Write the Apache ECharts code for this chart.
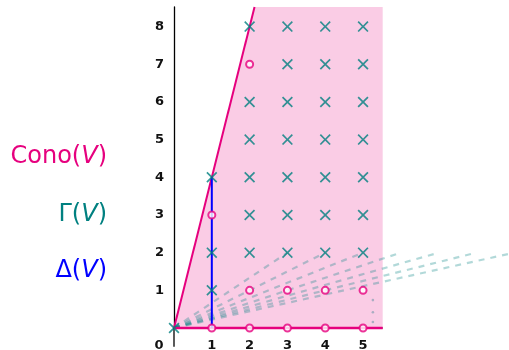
<!DOCTYPE html>
<html>
<head>
<meta charset="utf-8">
<script src="https://cdn.jsdelivr.net/npm/echarts@6/dist/echarts.min.js"></script>
<style>
html,body{margin:0;padding:0;background:#fff;}
#c{width:509px;height:350px;}
</style>
</head>
<body>
<div id="c"></div>
<script>
// ---- data ----
const xTickLabels = [1, 2, 3, 4, 5];
const yTickLabels = [1, 2, 3, 4, 5, 6, 7, 8];
// lattice points of Gamma(V) (teal crosses)
const gammaPoints = [
  [0,0],
  [1,1],[1,2],[1,4],
  [2,2],[2,3],[2,4],[2,5],[2,6],[2,8],
  [3,2],[3,3],[3,4],[3,5],[3,6],[3,7],[3,8],
  [4,2],[4,3],[4,4],[4,5],[4,6],[4,7],[4,8],
  [5,2],[5,3],[5,4],[5,5],[5,6],[5,7],[5,8]
];
// lattice points of the cone not in Gamma(V) (magenta circles)
const conePoints = [
  [1,0],[2,0],[3,0],[4,0],[5,0],
  [2,1],[3,1],[4,1],[5,1],
  [1,3],[2,7]
];
// cone boundary
const coneEdge = [[0,0],[2.13,8.52]];
const coneBase = [[0,0],[5.52,0]];
const coneFill = [[0,0],[2.13,8.52],[5.52,8.52],[5.52,0]];
// Delta(V) segment
const deltaSegment = [[1,0],[1,4]];
// dashed rays from origin toward (k,2)
const rayEnds = [[3,2],[4,2],[5,2],[6,2],[7,2],[8,2],[9,2]];
// vertical dots
const dotPoints = [[5.26,0.74],[5.26,0.42],[5.26,0.16]];
// axis lines
const xAxisLine = [[-0.5,0],[5.52,0]];
const yAxisTail = [[0,-0.5],[0,0]];

const MAG = '#e6007e';
const TEAL = '#008080';
const BLUE = '#0000ff';
const FONT = 'DejaVu Sans';

const crossPath = 'path://M0,11 L11,0 L50,39 L89,0 L100,11 L61,50 L100,89 L89,100 L50,61 L11,100 L0,89 L39,50 Z';

const chart = echarts.init(document.getElementById('c'), null, {renderer:'canvas'});

const series = [];
series.push({
  type:'line', data: coneFill, showSymbol:false, symbol:'none',
  lineStyle:{width:0, opacity:0},
  areaStyle:{color:'rgba(230,0,126,0.2)', opacity:1, origin:'auto'},
  z:1, silent:true
});
rayEnds.forEach(function(e){
  series.push({
    type:'line', data:[[0,0], e], showSymbol:false, symbol:'none', clip:true,
    lineStyle:{color:'rgba(0,128,128,0.3)', width:2.2, type:[6,6]},
    z:2, silent:true
  });
});
series.push({
  type:'scatter', data: dotPoints, symbol:'circle', symbolSize:2.6,
  itemStyle:{color:'rgba(0,110,120,0.4)'}, z:2, silent:true
});
series.push({
  type:'line', data: xAxisLine, showSymbol:false, symbol:'none', clip:false,
  lineStyle:{color:'#666', width:1.6}, z:3, silent:true
});
series.push({
  type:'line', data: yAxisTail, showSymbol:false, symbol:'none', clip:false,
  lineStyle:{color:'#000', width:1.3}, z:3, silent:true
});
series.push({
  type:'line', data: coneBase, showSymbol:false, symbol:'none', clip:false,
  lineStyle:{color:MAG, width:2.4}, z:3, silent:true
});
series.push({
  type:'line', data: coneEdge, showSymbol:false, symbol:'none',
  lineStyle:{color:MAG, width:2}, z:3, silent:true
});
series.push({
  type:'line', data: deltaSegment, showSymbol:false, symbol:'none',
  lineStyle:{color:BLUE, width:2}, z:4, silent:true
});
series.push({
  type:'scatter', data: conePoints, symbol:'emptyCircle', symbolSize:7, clip:false,
  itemStyle:{color:MAG, borderColor:MAG, borderWidth:1.6}, z:5, silent:true
});
series.push({
  type:'scatter', data: gammaPoints, symbol: crossPath, symbolSize:11, clip:false,
  itemStyle:{color:TEAL}, z:6, silent:true
});

chart.setOption({
  animation:false,
  backgroundColor:'#fff',
  grid:{left:174, right:0, top:7, bottom:22, outerBoundsMode:'none'},
  xAxis:{
    type:'value', min:0, max:8.86,
    axisLine:{show:false},
    axisTick:{show:false},
    splitLine:{show:false},
    axisLabel:{show:true, customValues:xTickLabels, margin:11,
      color:'#111', fontSize:13, fontWeight:'bold', fontFamily:FONT}
  },
  yAxis:{
    type:'value', min:0, max:8.52,
    axisLine:{show:true, onZero:false, lineStyle:{color:'#000', width:1.3}},
    axisTick:{show:false},
    splitLine:{show:false},
    axisLabel:{show:true, customValues:yTickLabels, margin:10,
      color:'#111', fontSize:13, fontWeight:'bold', fontFamily:FONT}
  },
  graphic:[
    {type:'text', x:159, y:345.5, z:10, style:{text:'0', align:'center', verticalAlign:'middle',
      fill:'#111', fontSize:13, fontWeight:'bold', fontFamily:FONT}},
    {type:'text', x:107, y:157, z:10, style:{text:'{n|Cono(}{i|V}{n|)}', align:'right', verticalAlign:'middle',
      rich:{n:{fill:MAG, fontSize:24, fontFamily:FONT}, i:{fill:MAG, fontSize:24, fontStyle:'italic', fontFamily:FONT}}}},
    {type:'text', x:107, y:215, z:10, style:{text:'{n|\u0393(}{i|V}{n|)}', align:'right', verticalAlign:'middle',
      rich:{n:{fill:TEAL, fontSize:24, fontFamily:FONT}, i:{fill:TEAL, fontSize:24, fontStyle:'italic', fontFamily:FONT}}}},
    {type:'text', x:107, y:271, z:10, style:{text:'{n|\u0394(}{i|V}{n|)}', align:'right', verticalAlign:'middle',
      rich:{n:{fill:BLUE, fontSize:24, fontFamily:FONT}, i:{fill:BLUE, fontSize:24, fontStyle:'italic', fontFamily:FONT}}}}
  ],
  series: series
});
</script>
</body>
</html>
